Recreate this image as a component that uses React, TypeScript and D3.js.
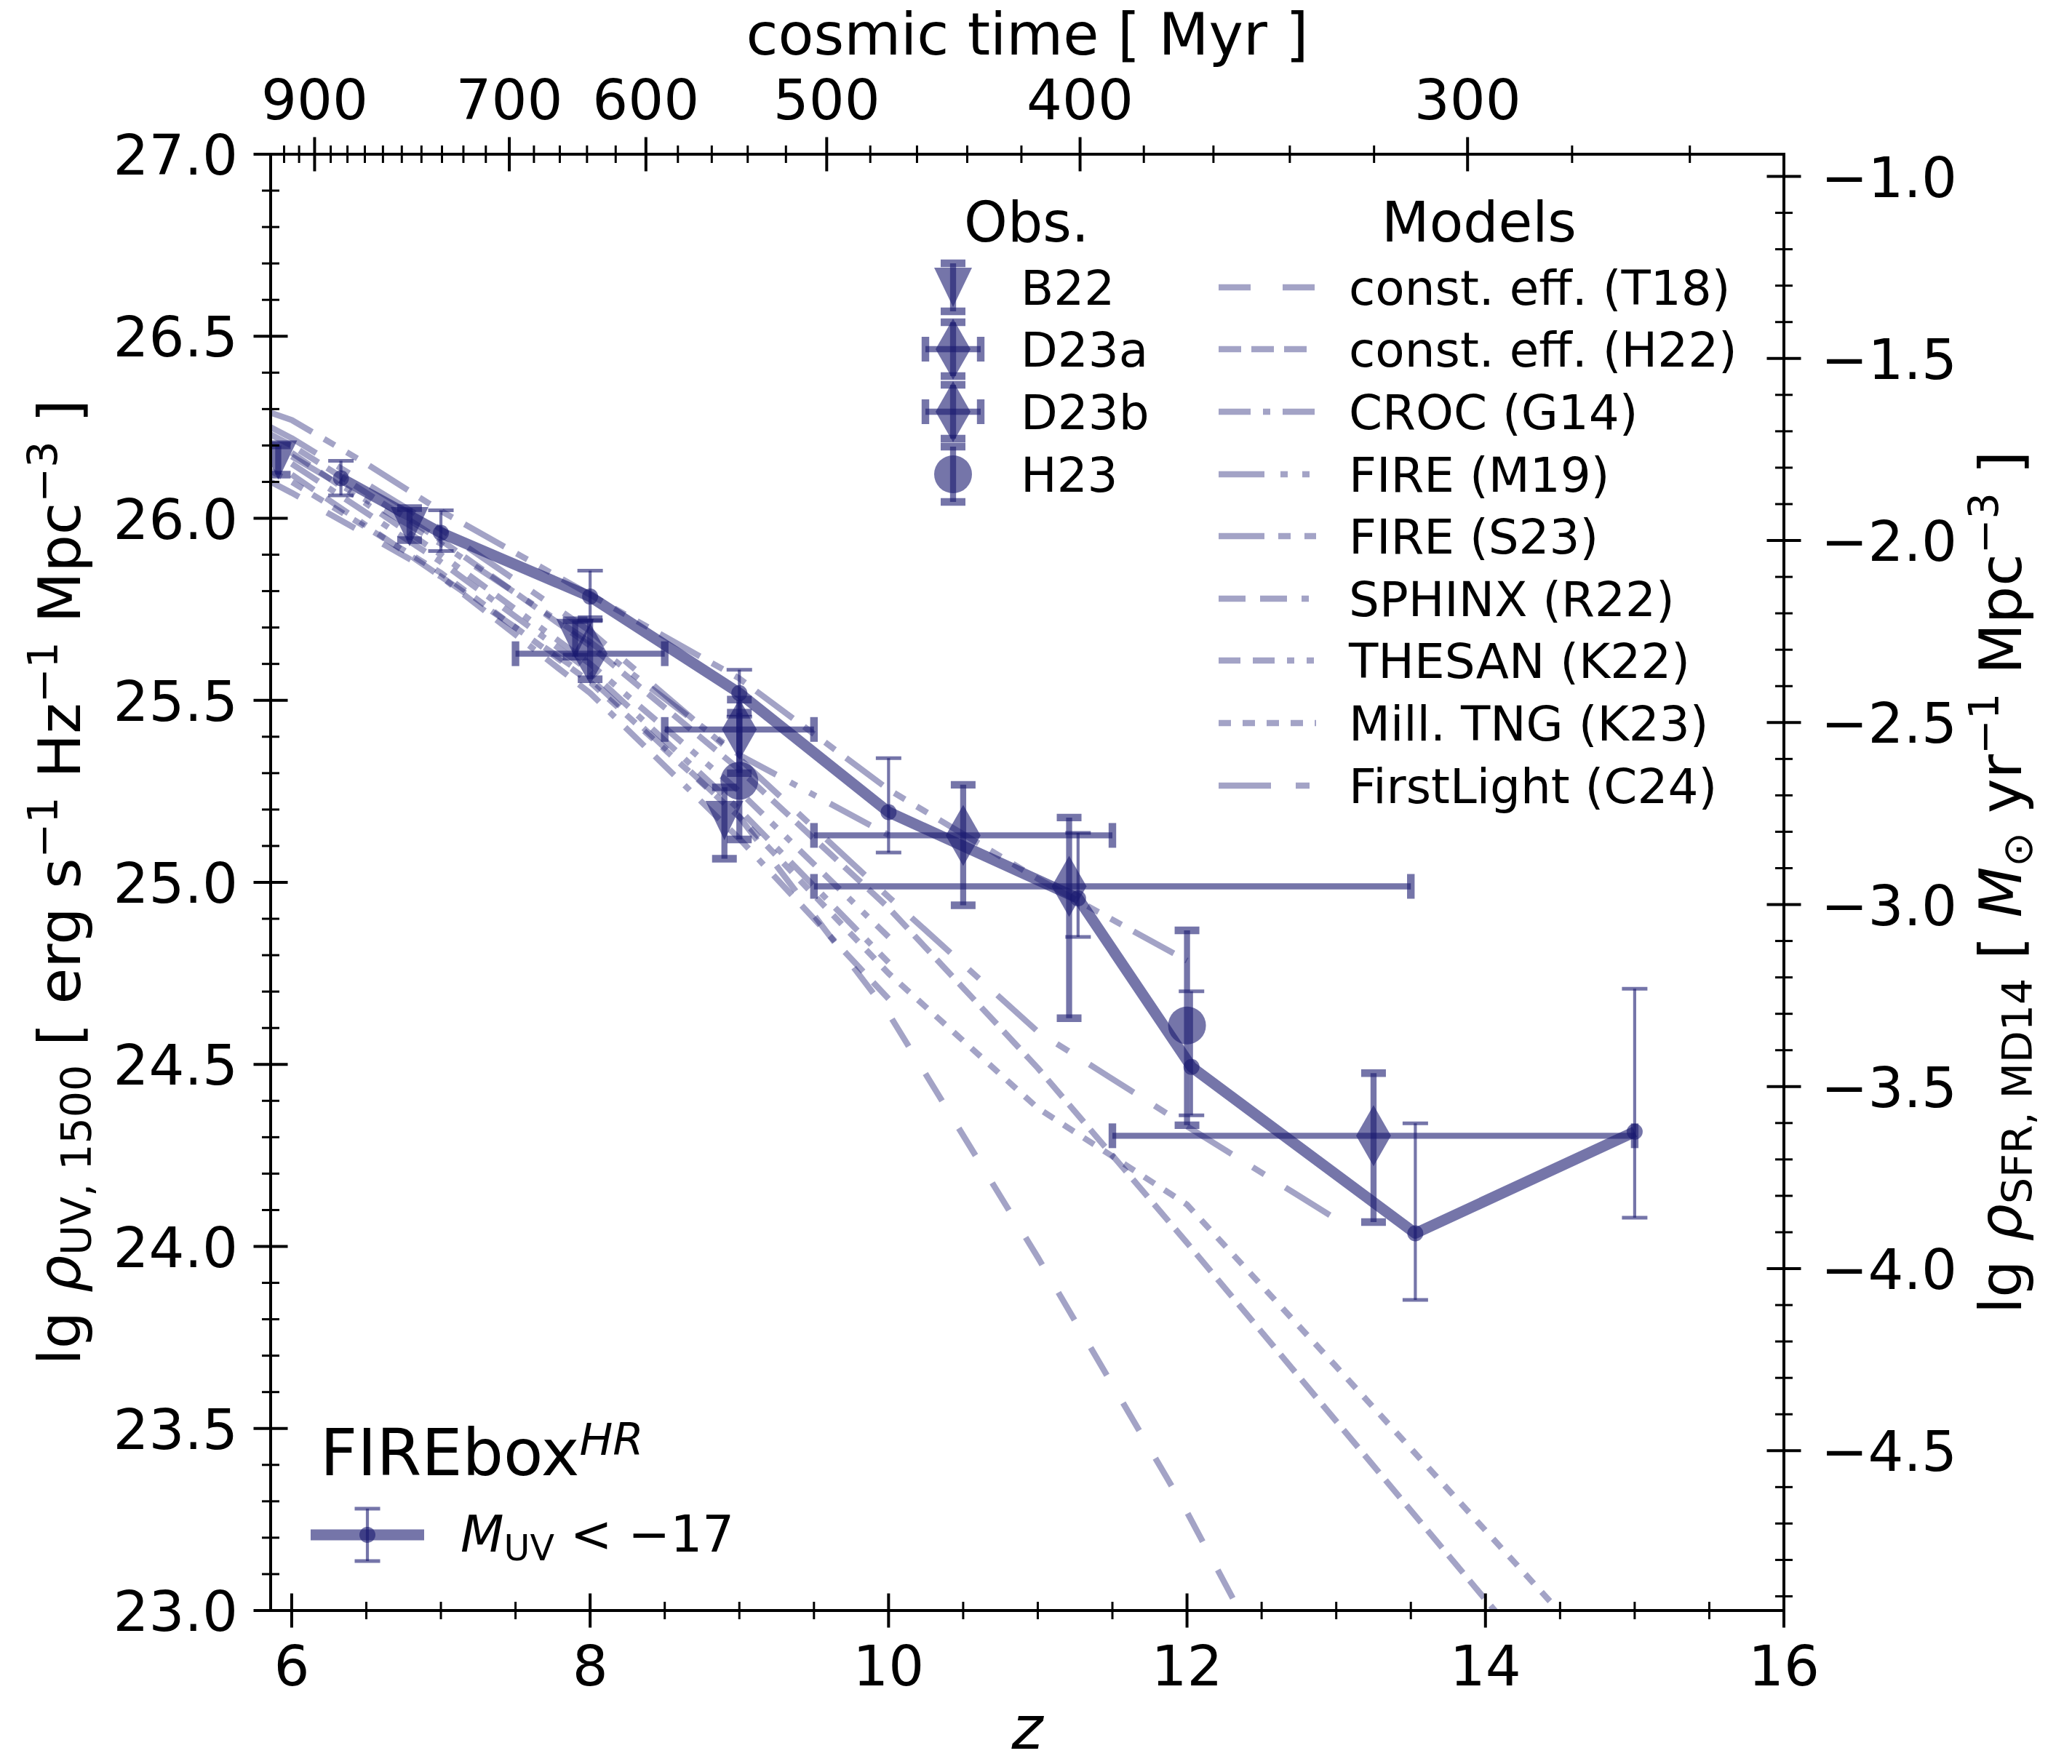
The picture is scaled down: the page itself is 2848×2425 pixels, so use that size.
import React, { useEffect, useRef } from "react";
import * as d3 from "d3";

const W = 2848, H = 2425;
const L = 372, R = 2452, T = 212, B = 2214;
const KAPPA = 27.939; // lg rho_SFR = lg rho_UV - 27.939 (MD14)
const C = "#191970";

// FIREbox^HR, M_UV < -17
const fireboxZ = [6.33, 7.0, 8.0, 9.0, 10.0, 11.27, 12.03, 13.53, 15.0];
const fireboxRho = [26.11, 25.96, 25.785, 25.52, 25.193, 24.956, 24.493, 24.036, 24.315];
const fireboxLo = [26.063, 25.91, 25.72, 25.455, 25.082, 24.85, 24.36, 23.853, 24.079];
const fireboxHi = [26.158, 26.022, 25.856, 25.584, 25.341, 25.136, 24.701, 24.338, 24.708];

// observations
const b22Z = [5.91, 6.79, 7.9, 8.9];
const b22Rho = [26.16, 25.977, 25.67, 25.17];
const b22Lo = [26.12, 25.94, 25.62, 25.065];
const b22Hi = [26.2, 26.028, 25.72, 25.261];

const d23aZ = [8.0, 9.0, 10.5, 13.25];
const d23aZLo = [7.5, 8.5, 9.5, 11.5];
const d23aZHi = [8.5, 9.5, 11.5, 15.0];
const d23aRho = [25.628, 25.42, 25.129, 24.304];
const d23aLo = [25.558, 25.3, 24.937, 24.067];
const d23aHi = [25.723, 25.502, 25.268, 24.476];

const d23bZ = [11.21];
const d23bZLo = [9.5];
const d23bZHi = [13.5];
const d23bRho = [24.989];
const d23bLo = [24.627];
const d23bHi = [25.178];

const h23Z = [9.0, 12.0];
const h23Rho = [25.279, 24.607];
const h23Lo = [25.118, 24.333];
const h23Hi = [25.466, 24.868];

// models
const t18Z = [5.86, 6, 7, 8, 9, 10, 11, 12, 13];
const t18Rho = [26.1, 26.07, 25.84, 25.56, 25.18, 24.64, 23.97, 23.27, 22.5];
const h22Z = [5.86, 6, 7, 8, 9, 10, 11, 12, 13, 14, 15];
const h22Rho = [26.23, 26.2, 25.94, 25.65, 25.31, 24.93, 24.49, 24.01, 23.52, 23.03, 22.55];
const crocZ = [6, 7, 8, 9, 10];
const crocRho = [26.15, 25.88, 25.58, 25.2, 24.78];
const m19Z = [6, 7, 8, 9, 10];
const m19Rho = [26.17, 25.93, 25.66, 25.35, 25.13];
const s23Z = [5.86, 6, 6.5, 7, 8, 9, 10, 11, 12];
const s23Rho = [26.29, 26.27, 26.15, 26.02, 25.79, 25.56, 25.255, 25.01, 24.785];
const sphinxZ = [6, 7, 8, 9, 10];
const sphinxRho = [26.12, 25.84, 25.52, 25.12, 24.68];
const thesanZ = [6, 7, 8, 9, 10];
const thesanRho = [26.18, 25.9, 25.6, 25.25, 24.85];
const tngZ = [5.86, 6, 7, 8, 9, 10, 11, 12, 13, 14, 15];
const tngRho = [26.13, 26.1, 25.85, 25.55, 25.18, 24.75, 24.38, 24.115, 23.67, 23.22, 22.77];
const flZ = [5.86, 6, 7, 8, 9, 10, 11, 12, 13];
const flRho = [26.25, 26.22, 25.97, 25.69, 25.34, 24.96, 24.59, 24.33, 24.075];

const modelLabels = [
  "const. eff. (T18)", "const. eff. (H22)", "CROC (G14)", "FIRE (M19)", "FIRE (S23)",
  "SPHINX (R22)", "THESAN (K22)", "Mill. TNG (K23)", "FirstLight (C24)",
];
const modelZ = [t18Z, h22Z, crocZ, m19Z, s23Z, sphinxZ, thesanZ, tngZ, flZ];
const modelRho = [t18Rho, h22Rho, crocRho, m19Rho, s23Rho, sphinxRho, thesanRho, tngRho, flRho];
const modelDash = [
  "44,44", "31,14", "44,17,10,17", "63,22,10,20,10,22", "63,19,17,19,17,19",
  "37,20,37,20,10,20", "30,17,30,17,10,17,10,17", "17,16", "72,34,19,34",
];

// axes
const zMajor = [6, 8, 10, 12, 14, 16];
const rhoMajor = [23.0, 23.5, 24.0, 24.5, 25.0, 25.5, 26.0, 26.5, 27.0];
const sfrMajor = [-1.0, -1.5, -2.0, -2.5, -3.0, -3.5, -4.0, -4.5];
const timeMajor = [900, 700, 600, 500, 400, 300];
const zOfTime = (t: number) => Math.pow(17220 / t, 2 / 3) - 1;

type Part = { t: string; it?: boolean; sh?: number; fs?: number };

export default function App() {
  const ref = useRef<SVGSVGElement | null>(null);

  useEffect(() => {
    const svg = d3.select(ref.current);
    svg.selectAll("*").remove();

    const x = d3.scaleLinear().domain([5.859, 16]).range([L, R]);
    const y = d3.scaleLinear().domain([23, 27]).range([B, T]);
    const ySfr = d3.scaleLinear().domain([23 - KAPPA, 27 - KAPPA]).range([B, T]);
    const fmt = (v: number) => d3.format(".1f")(v).replace("-", "\u2212");

    svg.append("rect").attr("width", W).attr("height", H).attr("fill", "#fff");
    svg.append("defs").append("clipPath").attr("id", "plotclip")
      .append("rect").attr("x", L).attr("y", T).attr("width", R - L).attr("height", B - T);

    const seg = (g: any, x1: number, y1: number, x2: number, y2: number, w: number, op: number) =>
      g.append("line").attr("x1", x1).attr("y1", y1).attr("x2", x2).attr("y2", y2)
        .attr("stroke", C).attr("stroke-width", w).attr("stroke-opacity", op);

    const errV = (g: any, px: number, y1: number, y2: number, lw: number, cap: number, cw: number, op: number) => {
      seg(g, px, y1, px, y2, lw, op);
      seg(g, px - cap, y1, px + cap, y1, cw, op);
      seg(g, px - cap, y2, px + cap, y2, cw, op);
    };
    const errH = (g: any, py: number, x1: number, x2: number, lw: number, cap: number, cw: number, op: number) => {
      seg(g, x1, py, x2, py, lw, op);
      seg(g, x1, py - cap, x1, py + cap, cw, op);
      seg(g, x2, py - cap, x2, py + cap, cw, op);
    };
    const marker = (g: any, kind: string, px: number, py: number, op: number) => {
      if (kind === "circle") {
        g.append("circle").attr("cx", px).attr("cy", py).attr("r", 26).attr("fill", C).attr("fill-opacity", op);
      } else {
        const p = kind === "v"
          ? `M${px - 26},${py - 27}L${px + 26},${py - 27}L${px},${py + 27}Z`
          : `M${px},${py - 42}L${px + 24},${py}L${px},${py + 42}L${px - 24},${py}Z`;
        g.append("path").attr("d", p).attr("fill", C).attr("fill-opacity", op);
      }
    };

    const data = svg.append("g").attr("clip-path", "url(#plotclip)");
    const line = d3.line<[number, number]>().x(d => x(d[0])).y(d => y(d[1]));

    // model curves
    modelLabels.forEach((lab, i) => {
      data.append("path")
        .datum(d3.zip(modelZ[i], modelRho[i]) as [number, number][])
        .attr("d", line)
        .attr("fill", "none").attr("stroke", C).attr("stroke-opacity", 0.4)
        .attr("stroke-width", 8.3).attr("stroke-dasharray", modelDash[i])
        .attr("stroke-linejoin", "round");
    });

    // observations
    const OP = 0.6;
    b22Z.forEach((z, i) => {
      errV(data, x(z), y(b22Hi[i]), y(b22Lo[i]), 8.3, 17, 10.4, OP);
      marker(data, "v", x(z), y(b22Rho[i]), OP);
    });
    const drawD23 = (zs: number[], zl: number[], zh: number[], r: number[], lo: number[], hi: number[]) => {
      zs.forEach((z, i) => {
        errV(data, x(z), y(hi[i]), y(lo[i]), 8.3, 17, 10.4, OP);
        errH(data, y(r[i]), x(zl[i]), x(zh[i]), 8.3, 17, 10.4, OP);
        marker(data, "d", x(z), y(r[i]), OP);
      });
    };
    drawD23(d23aZ, d23aZLo, d23aZHi, d23aRho, d23aLo, d23aHi);
    drawD23(d23bZ, d23bZLo, d23bZHi, d23bRho, d23bLo, d23bHi);
    h23Z.forEach((z, i) => {
      errV(data, x(z), y(h23Hi[i]), y(h23Lo[i]), 8.3, 17, 10.4, OP);
      marker(data, "circle", x(z), y(h23Rho[i]), OP);
    });

    // FIREbox
    fireboxZ.forEach((z, i) => errV(data, x(z), y(fireboxHi[i]), y(fireboxLo[i]), 4.2, 17.5, 5, OP));
    data.append("path")
      .datum(d3.zip(fireboxZ, fireboxRho) as [number, number][])
      .attr("d", line).attr("fill", "none").attr("stroke", C).attr("stroke-opacity", OP)
      .attr("stroke-width", 15).attr("stroke-linejoin", "round");
    fireboxZ.forEach((z, i) =>
      data.append("circle").attr("cx", x(z)).attr("cy", y(fireboxRho[i])).attr("r", 11)
        .attr("fill", C).attr("fill-opacity", OP));

    // axes: spines and inout ticks
    const ax = svg.append("g").attr("stroke", "#000").attr("stroke-linecap", "butt");
    const tk = (x1: number, y1: number, x2: number, y2: number, w: number) =>
      ax.append("line").attr("x1", x1).attr("y1", y1).attr("x2", x2).attr("y2", y2).attr("stroke-width", w);
    const MJ = 23.5, MN = 12;

    d3.range(6, 16.01, 0.5).forEach(z => {
      const big = zMajor.includes(z);
      tk(x(z), B - (big ? MJ : MN), x(z), B + (big ? MJ : MN), big ? 4 : 3);
    });
    d3.range(230, 271, 1).map(v => v / 10).forEach(v => {
      const big = rhoMajor.some(m => Math.abs(m - v) < 1e-6);
      tk(L - (big ? MJ : MN), y(v), L + (big ? MJ : MN), y(v), big ? 4 : 3);
    });
    d3.range(-49, -9, 1).map(v => v / 10).forEach(v => {
      const big = sfrMajor.some(m => Math.abs(m - v) < 1e-6);
      tk(R - (big ? MJ : MN), ySfr(v), R + (big ? MJ : MN), ySfr(v), big ? 4 : 3);
    });
    d3.range(240, 1000, 20).forEach(t => {
      const z = zOfTime(t);
      if (z < 5.859 || z > 16) return;
      const big = timeMajor.includes(t);
      tk(x(z), T - (big ? MJ : MN), x(z), T + (big ? MJ : MN), big ? 4 : 3);
    });
    svg.append("rect").attr("x", L).attr("y", T).attr("width", R - L).attr("height", B - T)
      .attr("fill", "none").attr("stroke", "#000").attr("stroke-width", 4);

    // tick labels
    const TF = 77;
    const txt = svg.append("g").attr("font-family", "DejaVu Sans").attr("fill", "#000");
    zMajor.forEach(z => txt.append("text").attr("x", x(z)).attr("y", 2317).attr("font-size", TF)
      .attr("text-anchor", "middle").text(String(z)));
    rhoMajor.forEach(v => txt.append("text").attr("x", 327).attr("y", y(v) + 28).attr("font-size", TF)
      .attr("text-anchor", "end").text(fmt(v)));
    sfrMajor.forEach(v => txt.append("text").attr("x", 2503).attr("y", ySfr(v) + 28).attr("font-size", TF)
      .attr("text-anchor", "start").text(fmt(v)));
    timeMajor.forEach(t => txt.append("text").attr("x", x(zOfTime(t))).attr("y", 164).attr("font-size", TF)
      .attr("text-anchor", "middle").text(String(t)));

    const rich = (t: any, parts: Part[], base: number) => {
      let cur = 0;
      parts.forEach(p => {
        const sh = p.sh ?? 0;
        t.append("tspan").attr("dy", sh - cur).attr("font-size", p.fs ?? base)
          .attr("font-style", p.it ? "italic" : "normal").text(p.t);
        cur = sh;
      });
    };

    // axis labels
    txt.append("text").attr("x", (L + R) / 2).attr("y", 75).attr("font-size", 80)
      .attr("text-anchor", "middle").text("cosmic time [ Myr ]");
    txt.append("text").attr("x", (L + R) / 2).attr("y", 2404).attr("font-size", 82)
      .attr("font-style", "italic").attr("text-anchor", "middle").text("z");

    const LF = 81, sub = 15, sup = -31, sfs = 57;
    const yl = txt.append("text").attr("transform", `translate(110,${(T + B) / 2}) rotate(-90)`)
      .attr("text-anchor", "middle").attr("font-size", LF).style("white-space", "pre");
    rich(yl, [
      { t: "lg " }, { t: "\u03c1", it: true }, { t: "UV, 1500", fs: sfs, sh: sub },
      { t: " [ erg s" }, { t: "\u22121", fs: sfs, sh: sup }, { t: " Hz" }, { t: "\u22121", fs: sfs, sh: sup },
      { t: " Mpc" }, { t: "\u22123", fs: sfs, sh: sup }, { t: " ]" },
    ], LF);
    const yr = txt.append("text").attr("transform", `translate(2778,${(T + B) / 2}) rotate(-90)`)
      .attr("text-anchor", "middle").attr("font-size", LF).style("white-space", "pre");
    rich(yr, [
      { t: "lg " }, { t: "\u03c1", it: true }, { t: "SFR, MD14", fs: sfs, sh: sub },
      { t: " [ " }, { t: "M", it: true }, { t: "\u2299", fs: sfs, sh: sub },
      { t: " yr" }, { t: "\u22121", fs: sfs, sh: sup }, { t: " Mpc" }, { t: "\u22123", fs: sfs, sh: sup }, { t: " ]" },
    ], LF);

    // legend: observations
    const lg = svg.append("g");
    const rowY = [395, 480, 566, 652, 737, 823, 908, 994, 1080];
    const GF = 66;
    txt.append("text").attr("x", 1411).attr("y", 332).attr("font-size", 76).attr("text-anchor", "middle").text("Obs.");
    txt.append("text").attr("x", 2033).attr("y", 332).attr("font-size", 76).attr("text-anchor", "middle").text("Models");
    const obsLabels = ["B22", "D23a", "D23b", "H23"];
    const mx = 1310;
    errV(lg, mx, rowY[0] - 33, rowY[0] + 33, 8.3, 17, 10.4, OP);
    marker(lg, "v", mx, rowY[0], OP);
    [1, 2].forEach(k => {
      errV(lg, mx, rowY[k] - 37, rowY[k] + 37, 8.3, 17, 10.4, OP);
      errH(lg, rowY[k], mx - 38, mx + 38, 8.3, 17, 10.4, OP);
      marker(lg, "d", mx, rowY[k], OP);
    });
    errV(lg, mx, rowY[3] - 38, rowY[3] + 38, 8.3, 17, 10.4, OP);
    marker(lg, "circle", mx, rowY[3], OP);
    obsLabels.forEach((s, k) => txt.append("text").attr("x", 1403).attr("y", rowY[k] + 24)
      .attr("font-size", GF).text(s));

    // legend: models
    modelLabels.forEach((s, k) => {
      lg.append("line").attr("x1", 1675).attr("x2", 1809).attr("y1", rowY[k]).attr("y2", rowY[k])
        .attr("stroke", C).attr("stroke-opacity", 0.4).attr("stroke-width", 8.3)
        .attr("stroke-dasharray", modelDash[k]);
      txt.append("text").attr("x", 1854).attr("y", rowY[k] + 24).attr("font-size", GF).text(s);
    });

    // legend: FIREbox
    const ft = txt.append("text").attr("x", 440).attr("y", 2028).attr("font-size", 89);
    rich(ft, [{ t: "FIREbox" }, { t: "HR", it: true, fs: 61, sh: -28 }], 89);
    const hy = 2110;
    errV(lg, 505, hy - 36, hy + 36, 4.2, 17.5, 5, OP);
    seg(lg, 427, hy, 583, hy, 15, OP);
    lg.append("circle").attr("cx", 505).attr("cy", hy).attr("r", 11).attr("fill", C).attr("fill-opacity", OP);
    const mt = txt.append("text").attr("x", 633).attr("y", 2133).attr("font-size", 69).style("white-space", "pre");
    rich(mt, [{ t: "M", it: true }, { t: "UV", fs: 49, sh: 12 }, { t: " < \u221217" }], 69);
  }, []);

  return (
    <svg ref={ref} width={W} height={H}
      style={{ position: "absolute", left: 0, top: 0, display: "block" }} />
  );
}
